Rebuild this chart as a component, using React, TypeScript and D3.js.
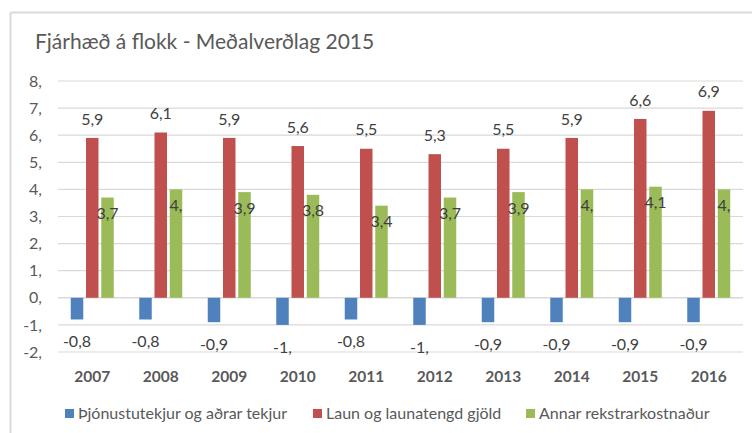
import React from "react";
import * as d3 from "d3";

// years and the three series (millions, 2015 price level)
const years = ["2007", "2008", "2009", "2010", "2011", "2012", "2013", "2014", "2015", "2016"];
const tekjur = [-0.8, -0.8, -0.9, -1.0, -0.8, -1.0, -0.9, -0.9, -0.9, -0.9];
const laun = [5.9, 6.1, 5.9, 5.6, 5.5, 5.3, 5.5, 5.9, 6.6, 6.9];
const annar = [3.7, 4.0, 3.9, 3.8, 3.4, 3.7, 3.9, 4.0, 4.1, 4.0];
const yTicks = [-2, -1, 0, 1, 2, 3, 4, 5, 6, 7, 8];
const seriesNames = ["Þjónustutekjur og aðrar tekjur", "Laun og launatengd gjöld", "Annar rekstrarkostnaður"];
const colors = ["#4F81BD", "#C0504D", "#9BBB59"];

const W = 752, H = 433;
const FONT = "Lato, 'Open Sans', sans-serif";
const FS = 16;

// excel style number: 4 -> "4,", 3.7 -> "3,7"
const fmt = (v: number) => {
  const s = v.toFixed(1).replace(".", ",");
  return s.endsWith(",0") ? s.slice(0, -1) : s;
};

export default function App() {
  const x = d3.scaleBand().domain(years).range([58, 743]);
  const y = d3.scaleLinear().domain([-2, 8]).range([352, 81]);
  const bw = 12.5;
  const offs = [-21.5, -6.25, 9];
  const data = [tekjur, laun, annar];

  return (
    <svg width={W} height={H} style={{ position: "absolute", left: 0, top: 0 }}>
      <rect x={0} y={0} width={W} height={H} fill="#fff" />
      {/* frame */}
      <line x1={10.5} x2={W} y1={12.5} y2={12.5} stroke="#D9D9D9" strokeWidth={2} />
      <line x1={10.5} x2={10.5} y1={12.5} y2={H} stroke="#D9D9D9" strokeWidth={2} />

      <text x={35} y={49} fontFamily={FONT} fontSize={21} fill="#595959">
        Fjárhæð á flokk - Meðalverðlag 2015
      </text>

      {yTicks.map((t) => (
        <g key={t}>
          <line x1={58} x2={743} y1={y(t)} y2={y(t)} stroke="#D9D9D9" strokeWidth={t === 0 ? 1.5 : 1.2} />
          <text x={42} y={y(t)} dy="0.35em" textAnchor="end" fontFamily={FONT} fontSize={FS} fill="#595959">
            {t + ","}
          </text>
        </g>
      ))}

      {years.map((yr, i) => {
        const cx = (x(yr) as number) + x.bandwidth() / 2;
        return (
          <g key={yr}>
            {data.map((arr, s) => {
              const v = arr[i];
              const bx = cx + offs[s];
              return (
                <rect key={s} x={bx} width={bw} y={Math.min(y(v), y(0))}
                  height={Math.abs(y(v) - y(0))} fill={colors[s]} />
              );
            })}
            <text x={cx + offs[0] + bw / 2} y={y(tekjur[i]) + 22} dy="0.35em" textAnchor="middle"
              fontFamily={FONT} fontSize={FS} fill="#404040">{fmt(tekjur[i])}</text>
            <text x={cx + offs[1] + bw / 2} y={y(laun[i]) - 19} dy="0.35em" textAnchor="middle"
              fontFamily={FONT} fontSize={FS} fill="#404040">{fmt(laun[i])}</text>
            <text x={cx + offs[2] + bw / 2} y={y(annar[i]) + 16} dy="0.35em" textAnchor="middle"
              fontFamily={FONT} fontSize={FS} fill="#404040">{fmt(annar[i])}</text>
            <text x={cx} y={377} dy="0.35em" textAnchor="middle" fontFamily={FONT} fontSize={15.5}
              fontWeight="bold" fill="#595959">{yr}</text>
          </g>
        );
      })}

      {/* legend */}
      {seriesNames.map((n, s) => {
        const lx = [65, 313, 526][s];
        return (
          <g key={n}>
            <rect x={lx} y={409} width={9} height={9} fill={colors[s]} />
            <text x={lx + 13} y={413.5} dy="0.35em" fontFamily={FONT} fontSize={FS} fill="#595959">{n}</text>
          </g>
        );
      })}
    </svg>
  );
}
